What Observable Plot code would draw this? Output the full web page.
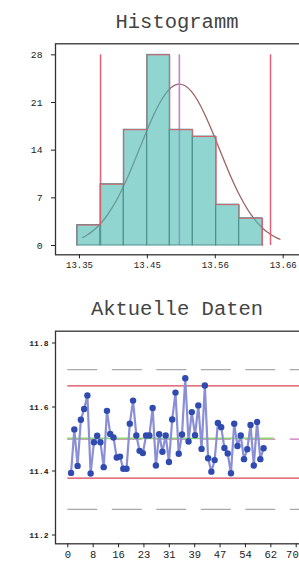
<!DOCTYPE html>
<html><head><meta charset="utf-8">
<script src="https://cdn.jsdelivr.net/npm/d3@7"></script>
<script src="https://cdn.jsdelivr.net/npm/@observablehq/plot@0.6"></script>
<style>
html,body{margin:0;padding:0;background:#fff;}
#wrap{position:relative;width:299px;height:561px;overflow:hidden;background:#fff;}
.title{position:absolute;left:55px;width:244px;text-align:center;font-family:"Courier New","Liberation Mono",monospace;font-size:20.5px;line-height:20.5px;color:#444;white-space:nowrap;}
.chart{position:absolute;left:0;width:312px;}
.chart svg{max-width:none !important;display:block;}
</style>
</head><body>
<div id="wrap">
  <div class="title" style="top:12.6px">Histogramm</div>
  <div class="chart" id="c1" style="top:36px"></div>
  <div class="title" style="top:300.3px">Aktuelle Daten</div>
  <div class="chart" id="c2" style="top:322px"></div>
</div>
<script>
// ---------- Histogram data ----------
const binEdges = [13.3465, 13.382, 13.4174, 13.453, 13.4874, 13.5224, 13.558, 13.593, 13.6285];
const binCounts = [3, 9, 17, 28, 17, 16, 6, 4];
const histXTicks = [13.35, 13.4533, 13.5567, 13.66];
const histXTickLabels = ["13.35", "13.45", "13.56", "13.66"];
const histYTicks = [0, 7, 14, 21, 28];
const specLower = 13.382;
const specUpper = 13.6407;
const nominal = 13.502;
const specLineTop = 28;
// fitted normal curve
const curveX = [13.355, 13.36, 13.37, 13.38, 13.39, 13.40, 13.41, 13.42, 13.43, 13.44, 13.45, 13.46, 13.47, 13.48, 13.49, 13.50, 13.51, 13.52, 13.53, 13.54, 13.55, 13.56, 13.57, 13.58, 13.59, 13.60, 13.61, 13.62, 13.63, 13.64, 13.65, 13.655];
const curveY = [1.18, 1.44, 2.11, 3.00, 4.15, 5.59, 7.31, 9.31, 11.54, 13.90, 16.28, 18.55, 20.56, 22.16, 23.23, 23.69, 23.49, 22.66, 21.25, 19.39, 17.21, 14.85, 12.47, 10.18, 8.08, 6.24, 4.69, 3.43, 2.43, 1.68, 1.13, 0.92];

// ---------- Control chart data ----------
const sampleValues = [11.394, 11.53, 11.416, 11.56, 11.594, 11.636, 11.392, 11.49, 11.51, 11.49,
  11.412, 11.588, 11.516, 11.505, 11.442, 11.445, 11.407, 11.407, 11.548, 11.62,
  11.511, 11.463, 11.456, 11.511, 11.511, 11.597, 11.417, 11.515, 11.46, 11.511,
  11.428, 11.561, 11.645, 11.454, 11.514, 11.69, 11.492, 11.584, 11.512, 11.605,
  11.469, 11.667, 11.44, 11.398, 11.434, 11.55, 11.537, 11.472, 11.455, 11.393,
  11.548, 11.478, 11.511, 11.437, 11.468, 11.544, 11.417, 11.553, 11.437, 11.471];
const ucl = 11.666, lcl = 11.378;
const upperWarn = 11.717, lowerWarn = 11.28;
const centerLine = 11.502, nominalLine = 11.4994;
const centerLineEnd = 63.3;
const ctrlXTicks = [0, 7.78, 15.56, 23.33, 31.11, 38.89, 46.67, 54.44, 62.22, 70];
const ctrlXTickLabels = ["0", "8", "16", "23", "31", "39", "47", "54", "62", "70"];
const ctrlYTicks = [11.2, 11.4, 11.6, 11.8];
const ctrlYTickLabels = ["11.2", "11.4", "11.6", "11.8"];

// ---------- build tables ----------
const bars = binCounts.map((c, i) => ({x1: binEdges[i], x2: binEdges[i + 1], count: c}));
const outline = [{x: binEdges[0], y: 0}]
  .concat(binCounts.map((c, i) => ({x: binEdges[i], y: c})))
  .concat([{x: binEdges[binEdges.length - 1], y: 0}]);
const curve = curveX.map((x, i) => ({x, y: curveY[i]}));
const points = sampleValues.map((v, i) => ({i: i + 1, v}));
const lastTick = ctrlXTicks.length - 1;

const W = 312;
const mono = "'Liberation Mono', 'Courier New', monospace";

const h = Plot.plot({
  width: W, height: 254,
  marginLeft: 55, marginRight: 0, marginTop: 7.3, marginBottom: 35.7,
  style: {background: "transparent", color: "#222", overflow: "visible", maxWidth: "none"},
  x: {domain: [13.3135, 13.7046]},
  y: {domain: [-1.366, 29.62]},
  marks: [
    Plot.line(curve, {x: "x", y: "y", stroke: "#9b6464", strokeWidth: 1.3, curve: "natural"}),
    Plot.ruleX([specLower, specUpper], {y1: 0, y2: specLineTop, stroke: "#e06078", strokeWidth: 1.5}),
    Plot.ruleX([nominal], {y1: 0, y2: specLineTop, stroke: "#c47fd6", strokeWidth: 1.6}),
    Plot.rectY(bars, {x1: "x1", x2: "x2", y: "count", fill: "#4ebbb4", fillOpacity: 0.62, stroke: "#4d8e8b", strokeWidth: 1}),
    Plot.line(outline, {x: "x", y: "y", curve: "step-after", stroke: "#d8606e", strokeWidth: 1}),
    Plot.frame({stroke: "#333", strokeWidth: 1.3}),
    Plot.axisX({ticks: histXTicks, tickFormat: d => histXTickLabels[histXTicks.indexOf(d)], tickSize: 4, tickPadding: 3, fontSize: 9, fontFamily: mono, label: null}),
    Plot.axisY({ticks: histYTicks, tickSize: 4, tickPadding: 9, fontSize: 9.75, fontFamily: mono, label: null})
  ]
});
document.getElementById("c1").appendChild(h);

const c = Plot.plot({
  width: W, height: 239,
  marginLeft: 55, marginRight: 0, marginTop: 8.7, marginBottom: 17.7,
  style: {background: "transparent", color: "#222", overflow: "visible", maxWidth: "none"},
  x: {domain: [-3.769, 74.99]},
  y: {domain: [11.1725, 11.8369]},
  marks: [
    Plot.ruleY([upperWarn, lowerWarn], {x1: 0, x2: 80, stroke: "#a9a9a9", strokeWidth: 1.2, strokeDasharray: "30,14.5"}),
    Plot.ruleY([nominalLine], {x1: 0, x2: 80, stroke: "#d070c0", strokeWidth: 1.2, strokeDasharray: "30,14.5"}),
    Plot.ruleY([centerLine], {x1: 0, x2: centerLineEnd, stroke: "#8ed66f", strokeWidth: 1.6}),
    Plot.ruleY([ucl, lcl], {x1: 0, x2: 80, stroke: "#d84454", strokeWidth: 1.3}),
    Plot.line(points, {x: "i", y: "v", stroke: "#8b8fd6", strokeWidth: 2.2}),
    Plot.dot(points, {x: "i", y: "v", r: 3.2, fill: "#2f4bb0", stroke: "none"}),
    Plot.frame({stroke: "#333", strokeWidth: 1.3}),
    Plot.axisX({ticks: ctrlXTicks, tickFormat: d => { const k = ctrlXTicks.indexOf(d); return k === lastTick ? "" : ctrlXTickLabels[k]; }, tickSize: 4, tickPadding: 2.5, fontSize: 10.5, fontFamily: mono, label: null}),
    Plot.text([ctrlXTicks[lastTick]], {x: d => d, frameAnchor: "bottom", dy: 6.5, text: () => ctrlXTickLabels[lastTick], textAnchor: "end", dx: 2.5, lineAnchor: "top", fontSize: 10.5, fontFamily: mono, fill: "#222"}),
    Plot.axisY({ticks: ctrlYTicks, tickFormat: d => ctrlYTickLabels[ctrlYTicks.indexOf(d)], tickSize: 3, tickPadding: 4, fontSize: 8, fontWeight: "bold", fontFamily: mono, label: null})
  ]
});
document.getElementById("c2").appendChild(c);
</script>
</body></html>
